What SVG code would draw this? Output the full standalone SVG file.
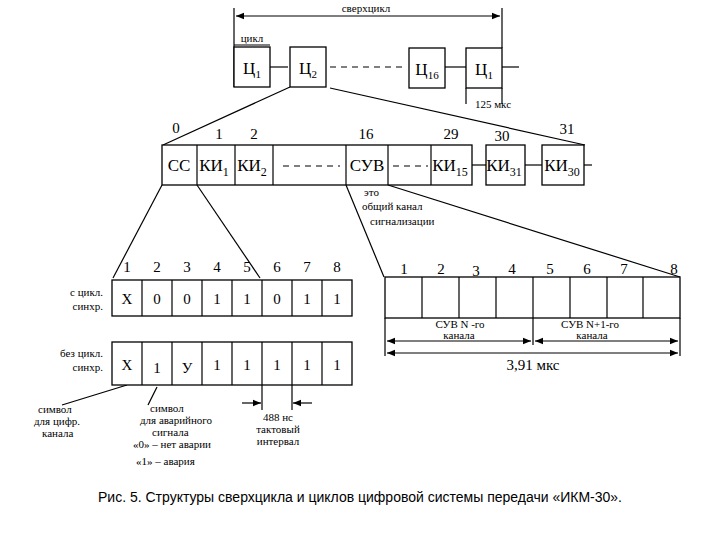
<svg xmlns="http://www.w3.org/2000/svg" width="720" height="540" viewBox="0 0 720 540">
<style>
rect{fill:#fff;stroke:#000;stroke-width:1.3}
line,path{stroke:#000;stroke-width:1.2;fill:none}
.d{stroke-dasharray:6 5}
text{fill:#000;font-family:"Liberation Serif","DejaVu Serif",serif}
text.cap{font-family:"Liberation Sans",Arial,sans-serif}
.b{font-size:17px;text-anchor:middle}
.s{font-size:11px}
.m{font-size:11px;text-anchor:middle}
.n{font-size:15px;text-anchor:middle}
</style>
<defs>
<marker id="a" viewBox="0 0 10 10" refX="10" refY="5" markerWidth="7" markerHeight="7" orient="auto-start-reverse"><path d="M0,1 L10,5 L0,9 z" style="fill:#000;stroke:none"/></marker>
</defs>
<rect x="0" y="0" width="720" height="540" style="stroke:none"/>
<g id="connectors">
<line x1="234" y1="8" x2="234" y2="87"/><line x1="502" y1="8" x2="502" y2="48"/>
<line x1="236" y1="16" x2="500" y2="16" marker-start="url(#a)" marker-end="url(#a)"/>
<line x1="270" y1="67" x2="288" y2="67"/><line x1="330" y1="67" x2="405" y2="67" class="d"/>
<line x1="445" y1="67" x2="466" y2="67"/><line x1="502" y1="67" x2="519" y2="67"/>
<line x1="466" y1="88" x2="466" y2="104"/><line x1="502" y1="88" x2="502" y2="104"/>
<line x1="290" y1="87" x2="163" y2="145"/><line x1="330" y1="88" x2="585" y2="145"/>
<line x1="472" y1="165" x2="486" y2="165"/><line x1="525" y1="165" x2="542" y2="165"/><line x1="584" y1="165" x2="592" y2="165"/>
<line x1="162" y1="185" x2="113" y2="278"/><line x1="197" y1="185" x2="260" y2="278"/>
<line x1="346" y1="185" x2="384" y2="277"/><line x1="388" y1="185" x2="680" y2="277"/>
<line x1="127" y1="385" x2="62" y2="405"/><line x1="157" y1="387" x2="148" y2="405"/>
<line x1="262" y1="385" x2="262" y2="410"/><line x1="292" y1="385" x2="292" y2="410"/>
<line x1="242" y1="403" x2="261" y2="403" marker-end="url(#a)"/><line x1="312" y1="403" x2="293" y2="403" marker-end="url(#a)"/>
<line x1="387" y1="341" x2="531" y2="341" marker-start="url(#a)" marker-end="url(#a)"/>
<line x1="535" y1="341" x2="678" y2="341" marker-start="url(#a)" marker-end="url(#a)"/>
<line x1="387" y1="353" x2="678" y2="353" marker-start="url(#a)" marker-end="url(#a)"/>
<line x1="385" y1="318" x2="385" y2="356"/><line x1="680" y1="318" x2="680" y2="356"/><line x1="533" y1="318" x2="533" y2="345"/>
</g>
<g id="superframe">
<text x="366" y="12" class="m" font-size="12">сверхцикл</text>
<text x="252" y="42" class="m">цикл</text><line x1="234" y1="45" x2="270" y2="45"/>
<text x="493" y="108" class="m" font-size="13">125 мкс</text>
</g>
<g id="c1"><rect x="234" y="47" width="36" height="40"/><text x="252" y="74" class="b">Ц<tspan font-size="11" dy="4">1</tspan></text></g>
<g id="c2"><rect x="290" y="47" width="36" height="40"/><text x="308" y="74" class="b">Ц<tspan font-size="11" dy="4">2</tspan></text></g>
<g id="c16"><rect x="409" y="48" width="36" height="40"/><text x="427" y="75" class="b">Ц<tspan font-size="11" dy="4">16</tspan></text></g>
<g id="c1b"><rect x="466" y="48" width="36" height="40"/><text x="484" y="75" class="b">Ц<tspan font-size="11" dy="4">1</tspan></text></g>
<g id="frame">
<rect x="162" y="145" width="310" height="40"/>
<line x1="197" y1="145" x2="197" y2="185"/><line x1="235" y1="145" x2="235" y2="185"/><line x1="273" y1="145" x2="273" y2="185"/>
<line x1="346" y1="145" x2="346" y2="185"/><line x1="388" y1="145" x2="388" y2="185"/><line x1="431" y1="145" x2="431" y2="185"/>
<line x1="283" y1="166" x2="340" y2="166" class="d"/><line x1="393" y1="166" x2="428" y2="166" class="d"/>
<text x="179" y="171" class="b">СС</text>
<text x="214" y="171" class="b">КИ<tspan font-size="12" dy="5">1</tspan></text>
<text x="252" y="171" class="b">КИ<tspan font-size="12" dy="5">2</tspan></text>
<text x="367" y="171" class="b">СУВ</text>
<text x="450" y="171" class="b">КИ<tspan font-size="12" dy="5">15</tspan></text>
<text x="176" y="133" class="n">0</text><text x="219" y="139" class="n">1</text><text x="254" y="139" class="n">2</text>
<text x="366" y="139" class="n">16</text><text x="451" y="139" class="n">29</text><text x="502" y="141" class="n">30</text><text x="567" y="134" class="n">31</text>
</g>
<g id="ki31"><rect x="486" y="145" width="39" height="40"/><text x="504" y="171" class="b">КИ<tspan font-size="12" dy="5">31</tspan></text></g>
<g id="ki30"><rect x="542" y="145" width="42" height="40"/><text x="562" y="171" class="b">КИ<tspan font-size="12" dy="5">30</tspan></text></g>
<g id="bits1">
<rect x="112" y="280" width="240" height="36"/>
<path d="M142,280V316M172,280V316M202,280V316M232,280V316M262,280V316M292,280V316M322,280V316"/>
<g class="n"><text x="127" y="272">1</text><text x="157" y="272">2</text><text x="187" y="272">3</text><text x="217" y="272">4</text><text x="247" y="272">5</text><text x="277" y="272">6</text><text x="307" y="272">7</text><text x="337" y="272">8</text>
<text x="127" y="304">X</text><text x="157" y="304">0</text><text x="187" y="304">0</text><text x="217" y="304">1</text><text x="247" y="304">1</text><text x="277" y="304">0</text><text x="307" y="304">1</text><text x="337" y="304">1</text></g>
<text x="103" y="296" class="s" text-anchor="end">с цикл.</text><text x="103" y="310" class="s" text-anchor="end">синхр.</text>
</g>
<g id="bits2">
<rect x="112" y="342" width="240" height="43"/>
<path d="M142,342V385M172,342V385M202,342V385M232,342V385M262,342V385M292,342V385M322,342V385"/>
<g class="n"><text x="127" y="370">X</text><text x="157" y="373">1</text><text x="187" y="373">У</text><text x="217" y="370">1</text><text x="247" y="370">1</text><text x="277" y="370">1</text><text x="307" y="370">1</text><text x="337" y="370">1</text></g>
<text x="103" y="357" class="s" text-anchor="end">без цикл.</text><text x="103" y="371" class="s" text-anchor="end">синхр.</text>
</g>
<g id="notes" class="s">
<text x="38" y="413">символ</text><text x="34" y="425">для цифр.</text><text x="42" y="437">канала</text>
<text x="150" y="412">символ</text><text x="140" y="424">для аварийного</text><text x="152" y="436">сигнала</text>
<text x="133" y="448">«0» – нет аварии</text><text x="136" y="465">«1» – авария</text>
<text x="278" y="421" class="m" font-size="13">488 нс</text><text x="278" y="433" class="m">тактовый</text><text x="278" y="445" class="m">интервал</text>
<text x="364" y="196">это</text><text x="362" y="210">общий канал</text><text x="370" y="225">сигнализации</text>
</g>
<g id="suv">
<rect x="385" y="277" width="295" height="41"/>
<path d="M422,277V318M459,277V318M496,277V318M533,277V318M570,277V318M607,277V318M643,277V318"/>
<g class="n"><text x="404" y="274">1</text><text x="441" y="274">2</text><text x="476" y="276">3</text><text x="512" y="274">4</text><text x="550" y="274">5</text><text x="587" y="274">6</text><text x="624" y="274">7</text><text x="674" y="274">8</text></g>
<text x="460" y="328" class="m" font-size="12">СУВ  N -го</text><text x="459" y="339" class="m" font-size="8">канала</text>
<text x="590" y="328" class="m" font-size="12">СУВ  N+1-го</text><text x="592" y="339" class="m" font-size="8">канала</text>
<text x="533" y="370" class="n">3,91 мкс</text>
</g>
<text class="cap" x="360" y="502" font-size="14" text-anchor="middle">Рис. 5. Структуры сверхцикла и циклов цифровой системы передачи «ИКМ-30».</text>
</svg>
